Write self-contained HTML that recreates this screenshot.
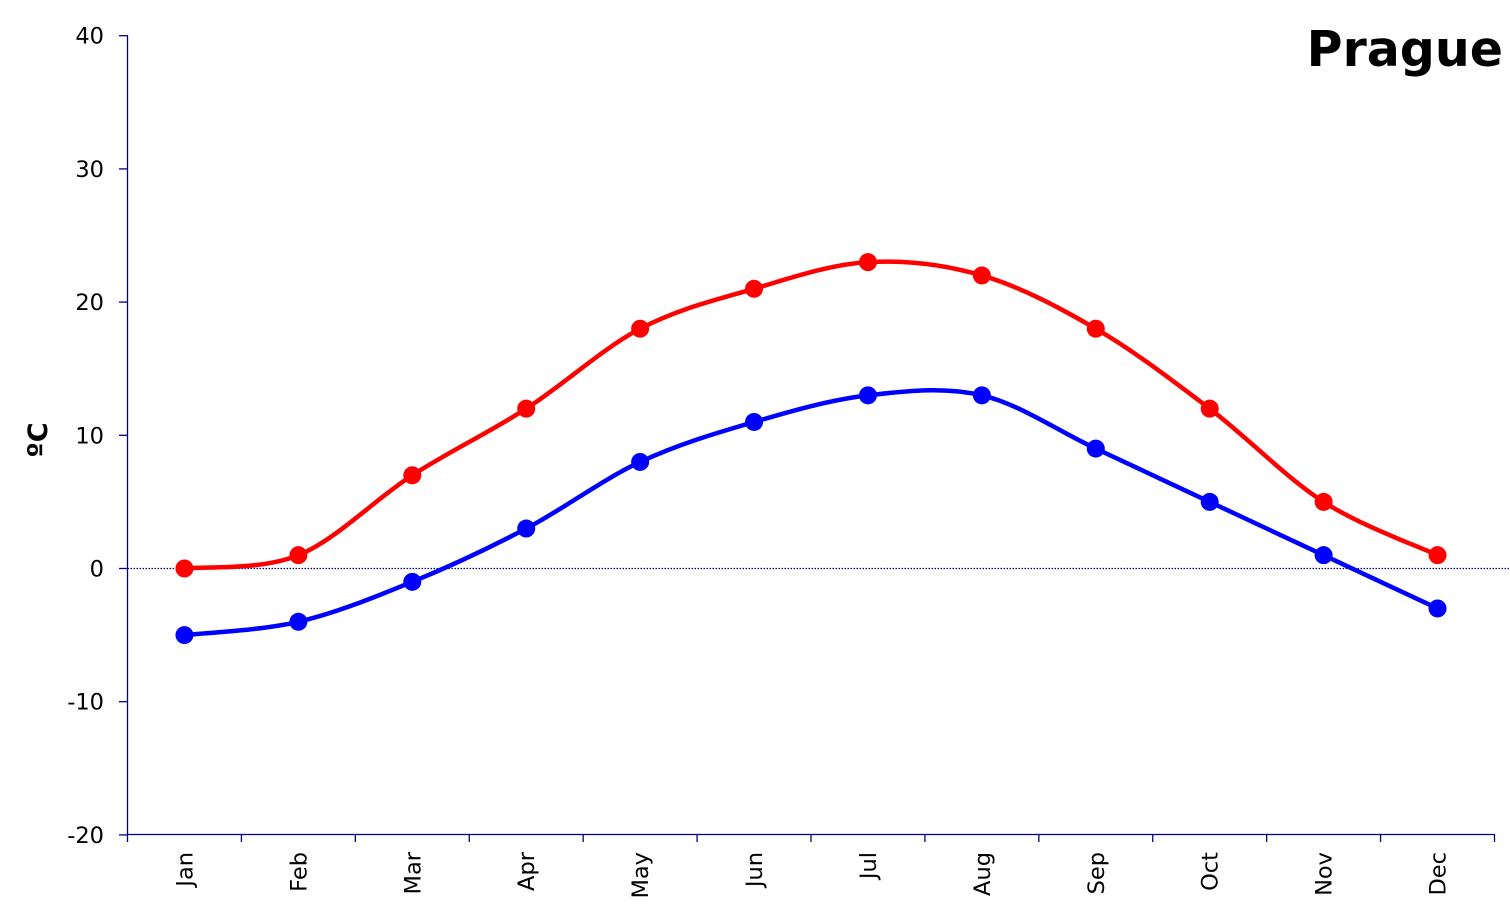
<!DOCTYPE html>
<html><head><meta charset="utf-8"><style>
html,body{margin:0;padding:0;background:#fff;}
svg{display:block;font-family:"DejaVu Sans","Liberation Sans",sans-serif;}
</style></head><body>
<svg id="c" width="1510" height="921" viewBox="0 0 1510 921" xmlns="http://www.w3.org/2000/svg">
<text x="1503" y="66" text-anchor="end" font-size="49" font-weight="bold" fill="#000">Prague</text>
<text transform="translate(47,440) rotate(-90)" text-anchor="middle" font-size="27" font-weight="bold" fill="#000">ºC</text>
<g id="ax"></g>
</svg>
<script>
var s=document.getElementById('c'),g=document.getElementById('ax'),NS='http://www.w3.org/2000/svg';
function el(t,a,txt){var e=document.createElementNS(NS,t);for(var k in a)e.setAttribute(k,a[k]);if(txt!==undefined)e.textContent=txt;g.appendChild(e);return e;}
var x0=127.5,x1=1494.5,cw=(x1-x0)/12;
function Y(v){return 568.5-v*13.32;}
function X(i){return x0+cw*(i+0.5);}
el('line',{x1:x0,y1:35,x2:x0,y2:834.5,stroke:'#00008b','stroke-width':1.3});
el('line',{x1:x0,y1:834.5,x2:x1,y2:834.5,stroke:'#00008b','stroke-width':1.3});
el('line',{x1:x0,y1:568.5,x2:1510,y2:568.5,stroke:'#00008b','stroke-width':1.3,'stroke-dasharray':'1.5,1.5'});
for(var v=-20;v<=40;v+=10){var y=Y(v);el('line',{x1:119,y1:y,x2:x0,y2:y,stroke:'#00008b','stroke-width':1.3});
el('text',{x:104,y:y+8,'text-anchor':'end','font-size':22.5,fill:'#000'},String(v));}
var m=['Jan','Feb','Mar','Apr','May','Jun','Jul','Aug','Sep','Oct','Nov','Dec'];
for(var i=0;i<=12;i++){var x=x0+cw*i;el('line',{x1:x,y1:834,x2:x,y2:842,stroke:'#00008b','stroke-width':1.3});}
for(var i=0;i<12;i++){el('text',{transform:'translate('+(X(i)+8)+',852) rotate(-90)','text-anchor':'end','font-size':22.5,fill:'#000'},m[i]);}
function series(d,c){var p=d.map(function(v,i){return [X(i),Y(v)];});
var s='M'+p[0][0]+','+p[0][1];
for(var i=0;i<p.length-1;i++){var a=p[Math.max(i-1,0)],b=p[i],q=p[i+1],r=p[Math.min(i+2,p.length-1)];
s+=' C'+(b[0]+(q[0]-a[0])/6)+','+(b[1]+(q[1]-a[1])/6)+' '+(q[0]-(r[0]-b[0])/6)+','+(q[1]-(r[1]-b[1])/6)+' '+q[0]+','+q[1];}
el('path',{d:s,fill:'none',stroke:c,'stroke-width':4.5});
p.forEach(function(pt){el('circle',{cx:pt[0],cy:pt[1],r:9,fill:c});});}
series([0,1,7,12,18,21,23,22,18,12,5,1],'#ff0000');
series([-5,-4,-1,3,8,11,13,13,9,5,1,-3],'#0000ff');
</script>
</body></html>
